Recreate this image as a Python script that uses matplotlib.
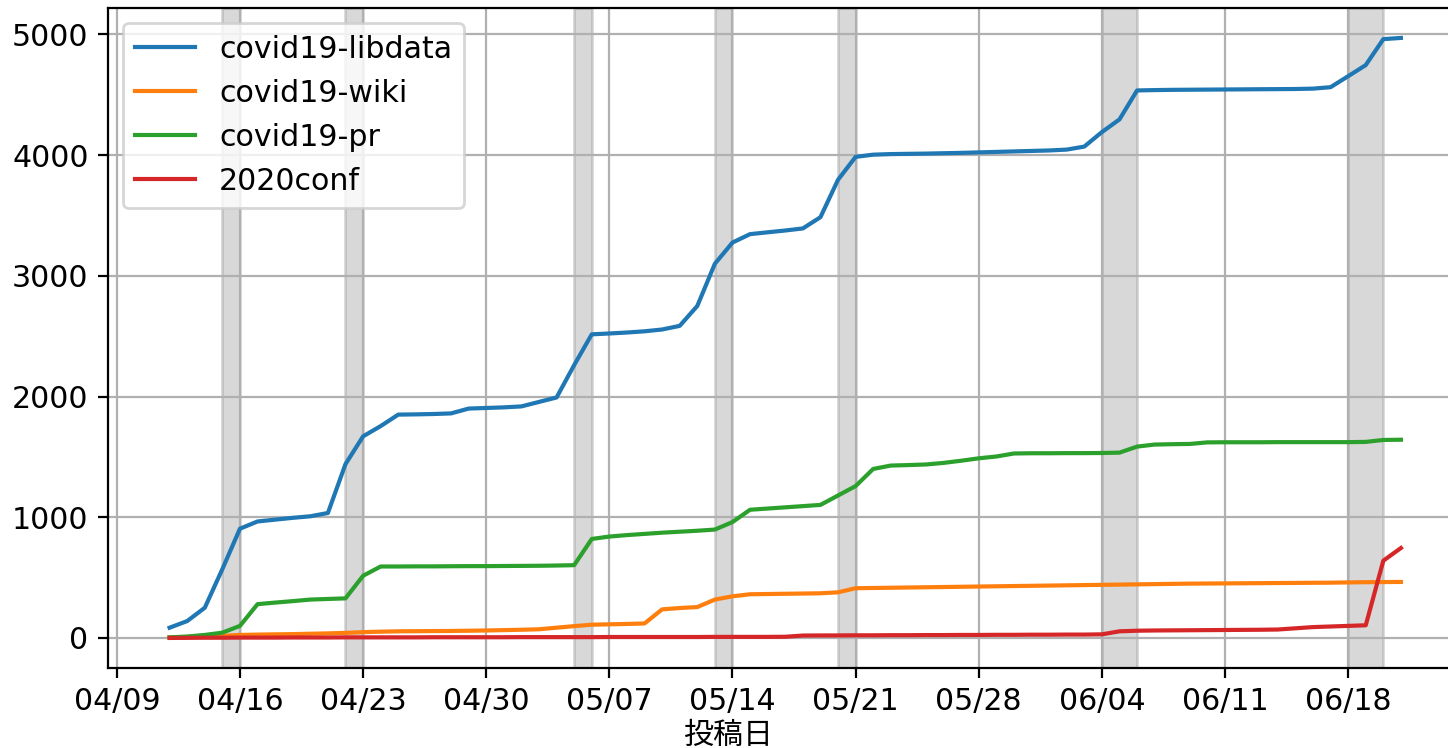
import matplotlib
matplotlib.use("Agg")
import matplotlib.pyplot as plt
import matplotlib.dates as mdates
import pandas as pd

plt.rcParams['font.family'] = ['DejaVu Sans', 'Noto Sans CJK JP']
plt.rcParams['font.size'] = 10.8

start_date = "2020-04-12"
n_days = 71

libdata = [85, 140, 250, 570, 905, 965, 980, 995, 1008, 1035,
           1440, 1670, 1755, 1850, 1852, 1855, 1860, 1900, 1905, 1910,
           1918, 1955, 1992, 2260, 2515, 2522, 2530, 2540, 2555, 2585,
           2750, 3100, 3275, 3345, 3360, 3375, 3392, 3485, 3795, 3985,
           4003, 4008, 4010, 4012, 4015, 4018, 4022, 4026, 4030, 4034,
           4038, 4045, 4070, 4190, 4295, 4535, 4538, 4540, 4541, 4542,
           4543, 4544, 4545, 4546, 4547, 4550, 4562, 4653, 4745, 4960,
           4970]

wiki = [5, 8, 12, 18, 25, 28, 30, 32, 35, 38,
        42, 48, 52, 55, 56, 57, 58, 60, 62, 65,
        68, 72, 85, 98, 110, 113, 116, 120, 237, 248,
        256, 318, 345, 362, 364, 366, 368, 370, 378, 412,
        414, 416, 418, 420, 422, 424, 426, 428, 430, 432,
        434, 436, 438, 440, 442, 444, 446, 448, 450, 451,
        452, 453, 454, 455, 456, 457, 458, 460, 462, 463,
        464]

pr = [5, 12, 25, 44, 100, 280, 293, 305, 318, 323,
      328, 515, 592, 592, 593, 593, 594, 595, 595, 596,
      597, 598, 600, 603, 820, 840, 852, 862, 872, 880,
      888, 898, 960, 1062, 1072, 1082, 1092, 1102, 1180, 1258,
      1400, 1428, 1432, 1437, 1450, 1468, 1488, 1503, 1528, 1530,
      1530, 1531, 1531, 1532, 1535, 1585, 1602, 1605, 1607, 1620,
      1621, 1621, 1621, 1622, 1622, 1622, 1622, 1622, 1624, 1640,
      1642]

conf2020 = [0, 1, 2, 2, 3, 3, 3, 4, 4, 4,
            5, 5, 5, 5, 5, 6, 6, 6, 6, 6,
            7, 7, 7, 7, 7, 8, 8, 8, 8, 8,
            8, 9, 9, 9, 9, 10, 20, 21, 21, 22,
            22, 23, 23, 24, 24, 25, 25, 26, 26, 27,
            27, 28, 28, 30, 55, 60, 62, 63, 64, 65,
            66, 67, 68, 70, 80, 90, 95, 100, 105, 640,
            745]

series_names = ["covid19-libdata", "covid19-wiki", "covid19-pr", "2020conf"]

span_starts = ["2020-04-15", "2020-04-22", "2020-05-05", "2020-05-13",
               "2020-05-20", "2020-06-04", "2020-06-18"]
span_ends = ["2020-04-16", "2020-04-23", "2020-05-06", "2020-05-14",
             "2020-05-21", "2020-06-06", "2020-06-20"]

tick_dates = ["2020-04-09", "2020-04-16", "2020-04-23", "2020-04-30",
              "2020-05-07", "2020-05-14", "2020-05-21", "2020-05-28",
              "2020-06-04", "2020-06-11", "2020-06-18"]
x_label = "投稿日"

dates = pd.date_range(start_date, periods=n_days, freq="D")

fig = plt.figure(figsize=(7.24, 3.74), dpi=200)
ax = fig.add_axes([0.0746, 0.1070, 0.9354, 0.8824])

for s, e in zip(span_starts, span_ends):
    ax.axvspan(pd.Timestamp(s), pd.Timestamp(e), color="gray", alpha=0.3)

for name, vals in zip(series_names, [libdata, wiki, pr, conf2020]):
    ax.plot(dates, vals, label=name)

ax.set_xticks([pd.Timestamp(t) for t in tick_dates])
ax.xaxis.set_major_formatter(mdates.DateFormatter("%m/%d"))
ax.grid(True)
ax.legend(loc="upper left")
ax.set_xlabel(x_label, labelpad=1.8, x=0.458)

fig.savefig("out.png", dpi=200)
